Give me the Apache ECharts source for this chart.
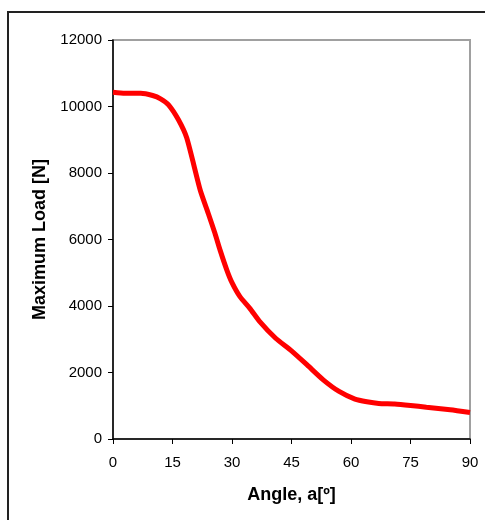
<!DOCTYPE html>
<html>
<head>
<meta charset="utf-8">
<script src="https://cdn.jsdelivr.net/npm/echarts@6/dist/echarts.min.js"></script>
<style>
  html, body { margin: 0; padding: 0; background: #fff; }
  #chart { width: 485px; height: 520px; }
</style>
</head>
<body>
<div id="chart"></div>
<script>
// Maximum load measured against loading angle
const angles = [0, 3, 7, 10, 12, 14, 16.5, 18.6, 22, 24, 25.7, 27, 28.7, 30, 32, 34.5, 37, 41, 45, 49, 53, 57, 61, 64, 67, 71, 75, 79, 85, 90];
const loads  = [10430, 10400, 10400, 10330, 10230, 10050, 9600, 9050, 7480, 6790, 6190, 5680, 5080, 4700, 4280, 3930, 3530, 3030, 2650, 2220, 1780, 1430, 1200, 1120, 1070, 1055, 1010, 955, 880, 800];

const xTicks = [0, 15, 30, 45, 60, 75, 90];
const yTicks = [0, 2000, 4000, 6000, 8000, 10000, 12000];

const FONT = '"Liberation Sans", Arial, sans-serif';

const chart = echarts.init(document.getElementById('chart'), null, { renderer: 'canvas' });

chart.setOption({
  animation: false,
  backgroundColor: '#ffffff',
  graphic: [{
    type: 'rect',
    shape: { x: 8, y: 12, width: 600, height: 600 },
    style: { fill: 'none', stroke: '#222', lineWidth: 2 },
    silent: true,
    z: -10
  }],
  grid: {
    left: 113, right: 15, top: 40, bottom: 81,
    show: true,
    borderColor: '#a0a0a0',
    borderWidth: 2,
    backgroundColor: 'transparent'
  },
  xAxis: {
    type: 'value',
    min: xTicks[0],
    max: xTicks[xTicks.length - 1],
    interval: 15,
    name: 'Angle, a[º]',
    nameLocation: 'middle',
    nameGap: 47,
    nameTextStyle: { fontFamily: FONT, fontSize: 18, fontWeight: 'bold', color: '#000' },
    axisLine: { show: true, lineStyle: { color: '#000', width: 1.5 } },
    axisTick: { show: true, inside: false, length: 5, lineStyle: { color: '#000', width: 1 } },
    axisLabel: { fontFamily: FONT, fontSize: 15, color: '#000', margin: 16 },
    splitLine: { show: false }
  },
  yAxis: {
    type: 'value',
    min: yTicks[0],
    max: yTicks[yTicks.length - 1],
    interval: 2000,
    name: 'Maximum Load [N]',
    nameLocation: 'middle',
    nameGap: 57,
    nameTextStyle: { fontFamily: FONT, fontSize: 18, fontWeight: 'bold', color: '#000' },
    axisLine: { show: true, lineStyle: { color: '#000', width: 1.5 } },
    axisTick: { show: true, inside: false, length: 5, lineStyle: { color: '#000', width: 1 } },
    axisLabel: { fontFamily: FONT, fontSize: 15, color: '#000', margin: 11, formatter: (v) => String(v) },
    splitLine: { show: false }
  },
  series: [{
    type: 'line',
    data: angles.map((a, i) => [a, loads[i]]),
    showSymbol: false,
    symbol: 'none',
    smooth: 0.2,
    lineStyle: { color: '#ff0000', width: 5 },
    clip: false
  }]
});
</script>
</body>
</html>
